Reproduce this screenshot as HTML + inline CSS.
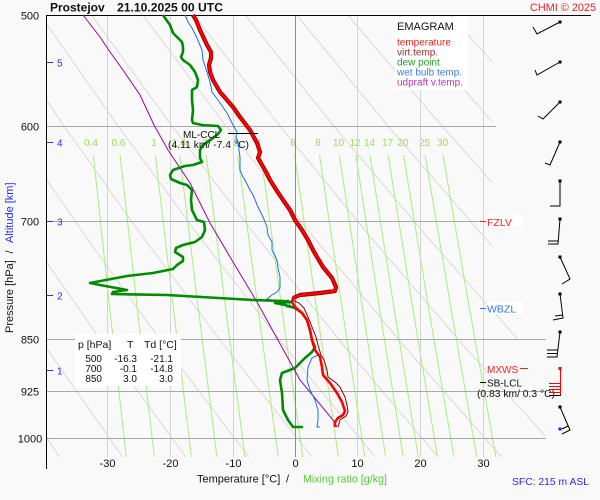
<!DOCTYPE html>
<html><head><meta charset="utf-8"><style>html,body{margin:0;padding:0;background:#f9f9f9}svg{display:block}</style></head>
<body>
<svg width="600" height="500" viewBox="0 0 600 500" xmlns="http://www.w3.org/2000/svg" font-family="'Liberation Sans', Arial, sans-serif">
<defs><clipPath id="ad"><polygon points="47,15 492,15 492,247 517,338 546,440 546,457 47,457"/></clipPath></defs>
<rect width="600" height="500" fill="#f9f9f9"/>

<!-- dry adiabats -->
<g clip-path="url(#ad)" stroke="#d9d9d9" stroke-width="1" fill="none">
<polyline points="-216,15 -152.4,125.5 -85.4,236 -14.7,346.5 59.6,457"/>
<polyline points="-164.8,15 -98.4,125.5 -28.5,236 45.2,346.5 122.7,457"/>
<polyline points="-113.5,15 -44.4,125.5 28.4,236 105.1,346.5 185.8,457"/>
<polyline points="-62.3,15 9.6,125.5 85.3,236 165,346.5 248.9,457"/>
<polyline points="-11,15 63.6,125.5 142.1,236 224.9,346.5 312,457"/>
<polyline points="40.3,15 117.6,125.5 199,236 284.7,346.5 375.1,457"/>
<polyline points="91.5,15 171.6,125.5 255.9,236 344.6,346.5 438.2,457"/>
<polyline points="142.8,15 225.5,125.5 312.7,236 404.5,346.5 501.3,457"/>
<polyline points="194,15 279.5,125.5 369.6,236 464.4,346.5 564.3,457"/>
<polyline points="245.3,15 333.5,125.5 426.5,236 524.3,346.5 627.4,457"/>
<polyline points="296.6,15 387.5,125.5 483.3,236 584.2,346.5 690.5,457"/>
<polyline points="347.8,15 441.5,125.5 540.2,236 644.1,346.5"/>
<polyline points="399.1,15 495.5,125.5 597,236"/>
<polyline points="450.3,15 549.5,125.5 653.9,236"/>
</g>

<!-- mixing ratio lines -->
<g stroke="#a8f07c" stroke-width="1" fill="none">
<polyline points="93.3,155 109.5,306 126.2,457"/>
<polyline points="120.1,155 137,306 154.3,457"/>
<polyline points="155.3,155 173.1,306 191.4,457"/>
<polyline points="179.6,155 198,306 216.9,457"/>
<polyline points="206.2,155 225.3,306 245,457"/>
<polyline points="237.7,155 257.7,306 278.2,457"/>
<polyline points="260.8,155 281.5,306 302.7,457"/>
<polyline points="294.6,155 316.2,306 338.4,457"/>
<polyline points="319.5,155 341.8,306 364.8,457"/>
<polyline points="339.3,155 362.2,306 385.7,457"/>
<polyline points="355.8,155 379.1,306 403.2,457"/>
<polyline points="369.9,155 393.7,306 418.3,457"/>
<polyline points="388.1,155 412.4,306 437.5,457"/>
<polyline points="403.5,155 428.3,306 453.9,457"/>
<polyline points="425.1,155 450.6,306 476.8,457"/>
<polyline points="443,155 469,306 495.9,457"/>
</g>
<g fill="#99dd55" font-size="10" text-anchor="middle">
<text x="91" y="146">0.4</text><text x="118.5" y="146">0.6</text><text x="154" y="146">1</text>
<text x="179" y="146">1.4</text><text x="205" y="146">2</text><text x="236" y="146">3</text>
<text x="258.5" y="146">4</text><text x="293" y="146">6</text><text x="318" y="146">8</text>
<text x="338.5" y="146">10</text><text x="355" y="146">12</text><text x="369.5" y="146">14</text>
<text x="387.5" y="146">17</text><text x="403" y="146">20</text><text x="424.5" y="146">25</text>
<text x="442.5" y="146">30</text>
</g>

<!-- vertical temperature grid -->
<g stroke="#d4d4d4" stroke-width="1" shape-rendering="crispEdges">
<line x1="107.5" y1="15" x2="107.5" y2="457"/>
<line x1="170.5" y1="15" x2="170.5" y2="457"/>
<line x1="233.5" y1="15" x2="233.5" y2="457"/>
<line x1="357.5" y1="15" x2="357.5" y2="457"/>
<line x1="420.5" y1="15" x2="420.5" y2="457"/>
<line x1="483.5" y1="15" x2="483.5" y2="457"/>
</g>
<!-- horizontal pressure grid -->
<g stroke="#a8a8a8" stroke-width="1" shape-rendering="crispEdges">
<line x1="46" y1="126.5" x2="496" y2="126.5"/>
<line x1="46" y1="221.5" x2="480" y2="221.5"/>
<line x1="46" y1="339.5" x2="546" y2="339.5"/>
<line x1="46" y1="391.5" x2="546" y2="391.5"/>
<line x1="46" y1="438.5" x2="546" y2="438.5"/>
</g>
<line x1="295.5" y1="15" x2="295.5" y2="457" stroke="#8c8c8c" stroke-width="1" shape-rendering="crispEdges"/>

<!-- axes -->
<line x1="46.5" y1="15" x2="46.5" y2="469" stroke="#000" stroke-width="1" shape-rendering="crispEdges"/>
<line x1="46" y1="15.5" x2="591" y2="15.5" stroke="#000" stroke-width="1" shape-rendering="crispEdges"/>

<!-- legend box -->
<rect x="395" y="17" width="73" height="73" fill="#ffffff"/>
<text x="397" y="30" font-size="11" fill="#111">EMAGRAM</text>
<g font-size="10">
<text x="397" y="45.5" fill="#ff2020">temperature</text>
<text x="397" y="55.5" fill="#a52a2a">virt.temp.</text>
<text x="397" y="65.5" fill="#22a022">dew point</text>
<text x="397" y="75.5" fill="#3a7ff6">wet bulb temp.</text>
<text x="397" y="85.5" fill="#c030c0">udpraft v.temp.</text>
</g>

<!-- table -->
<rect x="75" y="334" width="106" height="52" fill="#ffffff"/>
<g font-size="10.5" fill="#111">
<text x="78" y="348">p [hPa]</text><text x="127" y="348">T</text><text x="144" y="348">Td [°C]</text>
</g>
<g font-size="10" fill="#111" text-anchor="end">
<text x="102" y="362">500</text><text x="137" y="362">-16.3</text><text x="173" y="362">-21.1</text>
<text x="102" y="372">700</text><text x="137" y="372">-0.1</text><text x="173" y="372">-14.8</text>
<text x="102" y="382">850</text><text x="137" y="382">3.0</text><text x="173" y="382">3.0</text>
</g>

<!-- curves -->
<polyline fill="none" stroke="#a000a0" stroke-width="1" points="83,15 100,37 110,52 123,70 140,95 154,125 168,150 190,183 210,223 233,262 257,302 300,380 333,420 337,427"/>
<polyline fill="none" stroke="#1e6fe8" stroke-width="1" points="185,15 188,22 192,28 197,38 202,50 203,60 207,72 210,82 212,92 218,100 227,113 233,125 237,132 236,137 238,142 239,150 240,157 240,170 243,177 245,180 250,190 253,195 258,207 263,217 267,227 268,235 272,242 272,250 277,260 278,268 280,277 280,288 277,292 272,295 267,299 280,302 288,300 290,305 287,307 293,308 302,313 307,320 310,330 312,340 315,350 318,355 312,358 308,367 307,380 310,390 315,400 318,410 318,420 317,427 320,427"/>
<polyline fill="none" stroke="#008a00" stroke-width="2.6" stroke-linejoin="round" points="163,15 165,18 170,25 173,33 182,42 183,47 183,52 181,57 183,60 190,65 195,72 198,80 197,87 192,90 192,100 193,110 192,120 193,123 202,125 218,126 221,130 218,134 213,138 203,145 200,150 200,158 202,162 193,165 185,166 173,170 170,175 171,179 180,183 187,185 192,190 191,200 192,210 197,220 204,222 205,230 202,237 195,242 183,245 176,248 175,252 183,257 183,261 177,265 173,269 153,273 127,276 90,283 100,285 127,290 113,292 112,294 167,295 253,300 283,301 292,302 275,303 285,305 295,308 302,313 307,320 310,330 312,340 315,347 312,352 305,358 300,363 295,368 282,373 280,380 282,393 283,410 288,420 293,427 303,427"/>
<polyline fill="none" stroke="#8b0000" stroke-width="1" points="292,300 299,303 304,308 308,317 312,327 316,337 318,345 321,355 324,360 327,370 328,377 335,382 340,387 345,397 347,405 348,412 346,416 340,420 338,427"/>
<polyline fill="none" stroke="#8b0000" stroke-width="4.2" stroke-linejoin="round" points="193,15 196,20 200,30 207,45 211,52 211,58 209,65 210,72 213,80 220,92 227,100 233,107 240,117 250,130 257,143 260,152 258,158 262,165 266,172 270,180 277,191 283,200 290,210 295,220 302,230 308,240 313,250 317,257 323,267 332,278 336,287 335,291 320,293 300,295 293,298"/>
<polyline fill="none" stroke="#ff0000" stroke-width="2.6" stroke-linejoin="round" points="193,15 196,20 200,30 207,45 211,52 211,58 209,65 210,72 213,80 220,92 227,100 233,107 240,117 250,130 257,143 260,152 258,158 262,165 266,172 270,180 277,191 283,200 290,210 295,220 302,230 308,240 313,250 317,257 323,267 332,278 336,287 335,291 320,293 300,295 293,298 292,302 295,307 302,313 307,320 310,330 312,340 315,350 320,357 322,367 323,375 330,383 337,393 342,402 345,411 343,415 338,418 335,422 335,427"/>

<!-- ML-CCL -->
<line x1="228" y1="133.5" x2="258" y2="133.5" stroke="#000" stroke-width="1"/>
<text x="183" y="138" font-size="10" fill="#111">ML-CCL</text>
<text x="168" y="148" font-size="10" fill="#111" textLength="81" lengthAdjust="spacingAndGlyphs">(4.11 km/ -7.4 °C)</text>

<!-- right labels -->
<rect x="487" y="215" width="36" height="12" fill="#ffffff"/>
<line x1="480" y1="221.5" x2="486" y2="221.5" stroke="#ff2020"/>
<text x="487" y="226" font-size="10.5" fill="#ff2020">FZLV</text>
<rect x="487" y="302" width="36" height="12" fill="#ffffff"/>
<line x1="480" y1="308.5" x2="486" y2="308.5" stroke="#3377ee"/>
<text x="487" y="312.5" font-size="10.5" fill="#3377ee">WBZL</text>
<text x="487" y="373" font-size="10" fill="#ff2020">MXWS</text>
<line x1="520" y1="368.5" x2="528" y2="368.5" stroke="#ff2020"/>
<line x1="480" y1="382.5" x2="486" y2="382.5" stroke="#000"/>
<text x="487" y="386.5" font-size="10" fill="#111">SB-LCL</text>
<text x="477" y="397" font-size="10" fill="#111" textLength="78" lengthAdjust="spacingAndGlyphs">(0.83 km/ 0.3 °C)</text>

<!-- wind barbs -->
<g stroke="#000" stroke-width="1" fill="none">
<path d="M560,22 L537,34 L533,27"/>
<path d="M560,62 L537,75 L535,70"/>
<path d="M560,102 L543,119 L538,116"/>
<path d="M560,142 L550,165 L545,163"/>
<path d="M560,181 L560,206 L550,206"/>
<path d="M560,219 L558,244 L548,244 M558,241 L548,241"/>
<path d="M560,257 L570,279 L562,284"/>
<path d="M560,294 L563,318 L553,320 M563,315 L555,316"/>
<path d="M560,332 L557,357 L547,357 M557,353.5 L547,353.5 M558,350 L547,350"/>
<path d="M560,407 L570,430 L562,434 M568,426 L562,429"/>
<path d="M549,395.5 L561,395.5"/>
</g>
<path d="M560.5,369 L560.5,395 M560.5,383.5 L549,383.5 M560.5,386.5 L549,386.5 M560.5,389.5 L549,389.5 M560.5,392.5 L549,392.5" stroke="#ff0000" stroke-width="1" fill="none"/>
<g fill="#000">
<rect x="558.5" y="20.5" width="3" height="3"/><rect x="558.5" y="60.5" width="3" height="3"/>
<rect x="558.5" y="100.5" width="3" height="3"/><rect x="558.5" y="140.5" width="3" height="3"/>
<rect x="558.5" y="179.5" width="3" height="3"/><rect x="558.5" y="217.5" width="3" height="3"/>
<rect x="558.5" y="255.5" width="3" height="3"/><rect x="558.5" y="292.5" width="3" height="3"/>
<rect x="558.5" y="330.5" width="3" height="3"/><rect x="558.5" y="405.5" width="3" height="3"/>
</g>
<rect x="558.5" y="367" width="3" height="3" fill="#ff0000"/>
<rect x="558.5" y="427.5" width="3" height="3" fill="#1a1aff"/>

<!-- title -->
<text x="50" y="11.5" font-size="12" font-weight="bold" fill="#111">Prostejov</text>
<text x="117" y="11.5" font-size="12" font-weight="bold" fill="#111" textLength="106" lengthAdjust="spacingAndGlyphs">21.10.2025 00 UTC</text>
<text x="530" y="11" font-size="11" fill="#ee2020" textLength="66" lengthAdjust="spacingAndGlyphs">CHMI © 2025</text>

<!-- y labels -->
<g font-size="11" fill="#111" text-anchor="middle">
<text x="30" y="19.5">500</text><text x="30" y="130.5">600</text><text x="30" y="225.5">700</text>
<text x="30" y="343.5">850</text><text x="30" y="395.5">925</text><text x="30" y="442.5">1000</text>
</g>
<!-- altitude ticks -->
<g stroke="#2a2aff" stroke-width="1">
<line x1="47" y1="62.5" x2="53" y2="62.5"/><line x1="47" y1="142.5" x2="53" y2="142.5"/>
<line x1="47" y1="221.5" x2="53" y2="221.5"/><line x1="47" y1="295.5" x2="53" y2="295.5"/>
<line x1="47" y1="370.5" x2="53" y2="370.5"/>
</g>
<g font-size="10" fill="#2a2aff">
<text x="57" y="66.5">5</text><text x="57" y="146.5">4</text><text x="57" y="225.5">3</text>
<text x="57" y="299.5">2</text><text x="57" y="374.5">1</text>
</g>
<!-- rotated y title -->
<text transform="translate(13,333) rotate(-90)" font-size="11" fill="#111">Pressure [hPa]</text>
<text transform="translate(13,252) rotate(-90)" font-size="11" fill="#111" text-anchor="middle">/</text>
<text transform="translate(13,243) rotate(-90)" font-size="11" fill="#2a2aff">Altitude [km]</text>

<!-- x labels -->
<g font-size="11" fill="#111" text-anchor="middle">
<text x="107.5" y="467">-30</text><text x="170.5" y="467">-20</text><text x="233.5" y="467">-10</text>
<text x="295.5" y="467">0</text><text x="357.5" y="467">10</text><text x="420.5" y="467">20</text>
<text x="483.5" y="467">30</text>
</g>
<text x="197" y="482.5" font-size="11" fill="#111">Temperature [°C]</text>
<text x="286" y="482.5" font-size="11" fill="#111">/</text>
<text x="303" y="482.5" font-size="11" fill="#55cc33" textLength="84" lengthAdjust="spacingAndGlyphs">Mixing ratio [g/kg]</text>
<text x="512" y="485" font-size="10.5" fill="#2a2add" textLength="77" lengthAdjust="spacingAndGlyphs">SFC: 215 m ASL</text>
</svg>
</body></html>
